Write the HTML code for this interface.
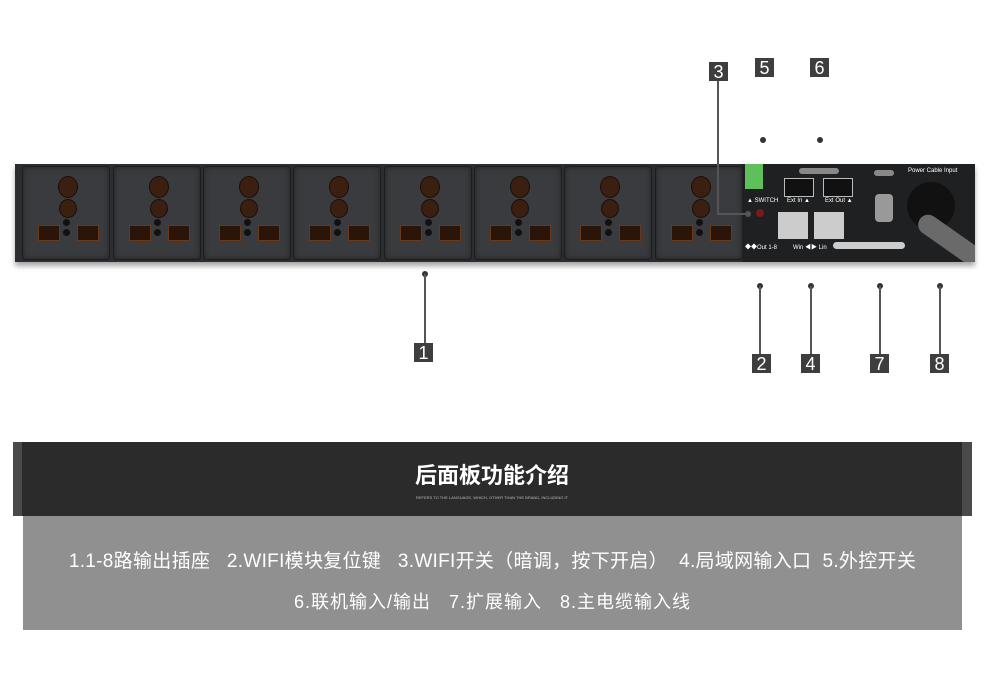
<!DOCTYPE html>
<html><head><meta charset="utf-8"><style>
body{margin:0;width:990px;height:691px;background:#fff;position:relative;overflow:hidden;font-family:"Liberation Sans","Noto Sans CJK SC",sans-serif}
.a{position:absolute}
.dev{left:15px;top:164px;width:960px;height:98px;background:#2c2d30;box-shadow:0 4px 5px rgba(0,0,0,.35);overflow:hidden}
.sk{position:absolute;top:2px;width:86px;height:92px;background:#3a3b3e;border:1px solid #1c1d1f;border-radius:3px;box-shadow:inset 0 0 6px #222}
.o{position:absolute;background:#3b1f10;border-radius:50%;border:1px solid #1a0f08}
.d{position:absolute;width:7px;height:7px;border-radius:50%;background:#111}
.sl{position:absolute;width:20px;height:14px;background:#2a1508;border:1px solid #6a3a18}
.lb{position:absolute;width:19px;height:19px;background:#3e3e3e;color:#fff;font-size:18px;line-height:20px;text-align:center}
.ln{position:absolute;background:#555;width:2px}
.dt{position:absolute;width:6px;height:6px;border-radius:50%;background:#333}
.t{color:#fff;font-size:6px;position:absolute;white-space:nowrap}
</style></head><body>
<div class="a dev">
<div class="sk" style="left:7px"></div><div class="sk" style="left:98px"></div><div class="sk" style="left:188px"></div><div class="sk" style="left:278px"></div><div class="sk" style="left:369px"></div><div class="sk" style="left:459px"></div><div class="sk" style="left:549px"></div><div class="sk" style="left:640px"></div>
<div class="a" style="left:727px;top:0;width:233px;height:98px;background:#1f2022"></div>
<div class="a" style="left:730px;top:0;width:18px;height:25px;background:#5fbf5a"></div>
<div class="t" style="left:732px;top:34px">▲ SWITCH</div>
<div class="a" style="left:769px;top:14px;width:28px;height:17px;border:1px solid #bbb;background:#111"></div>
<div class="a" style="left:808px;top:14px;width:28px;height:17px;border:1px solid #bbb;background:#111"></div>
<div class="t" style="left:772px;top:34px">Ext In ▲</div><div class="t" style="left:810px;top:34px">Ext Out ▲</div>
<div class="a" style="left:784px;top:4px;width:40px;height:6px;background:#888;border-radius:3px"></div>
<div class="a" style="left:741px;top:45px;width:8px;height:8px;border-radius:50%;background:#7a1a1a"></div>
<div class="a" style="left:763px;top:48px;width:30px;height:27px;background:#ccc"></div>
<div class="a" style="left:799px;top:48px;width:30px;height:27px;background:#ccc"></div>
<div class="t" style="left:730px;top:78px">◆◆Out 1-8</div><div class="t" style="left:778px;top:78px">Win ◀▶ Lin</div>
<div class="a" style="left:818px;top:78px;width:72px;height:7px;background:#ccc;border-radius:4px"></div>
<div class="a" style="left:859px;top:6px;width:20px;height:6px;background:#888;border-radius:3px"></div>
<div class="a" style="left:860px;top:30px;width:18px;height:28px;background:#999;border-radius:4px"></div>
<div class="t" style="left:893px;top:4px">Power Cable Input</div>
<div class="a" style="left:892px;top:18px;width:48px;height:48px;border-radius:50%;background:#111"></div>
<div class="a" style="left:905px;top:45px;width:70px;height:20px;border-radius:10px;background:#6a6a6a;transform:rotate(35deg);transform-origin:0 50%"></div>
</div>
<div id="sks"></div>
<script>
var x=[22,113,203,293,384,474,564,655],h='';
x.forEach(function(l){var c=l+45;h+='<div class="o" style="left:'+(c-9)+'px;top:176px;width:18px;height:20px"></div><div class="o" style="left:'+(c-8)+'px;top:199px;width:16px;height:17px"></div><div class="d" style="left:'+(c-4)+'px;top:219px"></div><div class="d" style="left:'+(c-4)+'px;top:229px"></div><div class="sl" style="left:'+(c-29)+'px;top:225px"></div><div class="sl" style="left:'+(c+10)+'px;top:225px"></div>';});
document.getElementById('sks').innerHTML=h;
</script>
<div class="lb" style="left:709px;top:62px">3</div>
<div class="ln" style="left:717px;top:81px;height:133px"></div>
<div class="a" style="left:717px;top:213px;width:30px;height:2px;background:#555"></div>
<div class="dt" style="left:745px;top:211px;background:#555"></div>
<div class="lb" style="left:755px;top:58px">5</div><div class="dt" style="left:760px;top:137px"></div>
<div class="lb" style="left:810px;top:58px">6</div><div class="dt" style="left:817px;top:137px"></div>
<div class="dt" style="left:422px;top:271px"></div><div class="ln" style="left:424px;top:274px;height:70px"></div><div class="lb" style="left:414px;top:343px">1</div>
<div class="dt" style="left:757px;top:283px"></div><div class="ln" style="left:759px;top:286px;height:68px"></div><div class="lb" style="left:752px;top:354px">2</div>
<div class="dt" style="left:808px;top:283px"></div><div class="ln" style="left:810px;top:286px;height:68px"></div><div class="lb" style="left:801px;top:354px">4</div>
<div class="dt" style="left:877px;top:283px"></div><div class="ln" style="left:879px;top:286px;height:68px"></div><div class="lb" style="left:870px;top:354px">7</div>
<div class="dt" style="left:937px;top:283px"></div><div class="ln" style="left:939px;top:286px;height:68px"></div><div class="lb" style="left:930px;top:354px">8</div>
<div class="a" style="left:13px;top:442px;width:959px;height:74px;background:#4a4a4a"></div>
<div class="a" style="left:22px;top:442px;width:940px;height:74px;background:#2b2b2b"></div>
<div class="a" style="left:22px;top:458px;width:940px;text-align:center;color:#fff;font-size:22px;font-weight:bold">后面板功能介绍</div>
<div class="a" style="left:22px;top:495px;width:940px;text-align:center;color:#bbb;font-size:4px">REFERS TO THE LANGUAGE, WHICH, OTHER THAN THE BRAND, INCLUDING IT</div>
<div class="a" style="left:23px;top:516px;width:939px;height:114px;background:#909090"></div>
<div class="a" style="left:13px;top:546px;width:959px;text-align:center;color:#fff;font-size:19px;letter-spacing:0.3px;white-space:nowrap">1.1-8路输出插座&nbsp;&nbsp;&nbsp;2.WIFI模块复位键&nbsp;&nbsp;&nbsp;3.WIFI开关（暗调，按下开启）&nbsp;&nbsp;4.局域网输入口&nbsp;&nbsp;5.外控开关</div>
<div class="a" style="left:13px;top:588px;width:959px;text-align:center;color:#fff;font-size:18px;letter-spacing:1px;white-space:nowrap">6.联机输入/输出&nbsp;&nbsp;&nbsp;7.扩展输入&nbsp;&nbsp;&nbsp;8.主电缆输入线</div>
</body></html>
